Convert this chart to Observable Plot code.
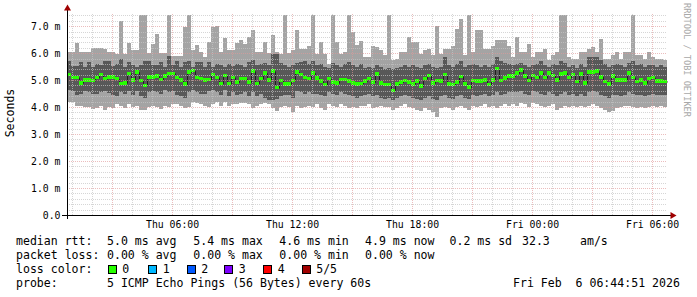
<!DOCTYPE html>
<html><head><meta charset="utf-8">
<script src="https://cdn.jsdelivr.net/npm/d3@7"></script>
<script src="https://cdn.jsdelivr.net/npm/@observablehq/plot@0.6"></script>
<style>
body{margin:0;background:#fff;}
#wrap{position:relative;width:697px;height:297px;overflow:hidden;font-family:"DejaVu Sans Mono",monospace;}
#wrap svg{position:absolute;left:0;top:0;}
.t{position:absolute;font-size:11.55px;white-space:pre;color:#000;line-height:1;}
.box{position:absolute;width:7px;height:7px;border:1px solid #000;}
.rot{position:absolute;white-space:pre;line-height:1;}
</style></head><body><div id="wrap"></div>
<script>
// ---- data (ms), one value per 12-minute step ----
const lmax = [6.05,6.05,6.37,6.05,6.05,6.05,6.18,6.20,6.20,6.15,
6.05,6.05,5.95,7.20,5.95,6.38,6.12,6.12,7.40,7.40,
6.00,6.35,6.70,6.00,6.00,7.42,5.90,5.90,5.90,6.96,
7.40,6.10,6.30,6.05,5.85,6.40,6.95,7.02,6.05,6.55,
6.10,6.10,6.38,6.50,6.35,6.60,6.84,6.05,6.05,6.40,
6.00,6.68,6.05,5.95,7.42,6.00,6.10,6.84,6.15,6.15,
6.25,7.40,5.95,6.40,5.95,5.60,7.40,6.40,5.95,6.05,
7.40,6.80,6.30,6.45,5.85,5.85,6.28,6.22,6.10,5.92,
7.42,5.73,5.80,6.04,6.04,6.60,6.40,6.40,5.97,6.10,
6.16,5.92,7.00,5.97,6.16,6.16,6.28,6.90,7.27,5.92,
7.42,6.04,6.84,6.84,6.16,6.16,6.28,6.47,6.47,6.47,
6.28,5.85,6.60,6.04,6.04,6.35,5.85,6.04,6.04,6.16,
5.73,5.92,6.04,7.42,7.42,5.85,5.80,5.80,6.04,6.04,
6.16,6.22,6.04,6.53,5.80,5.80,5.92,6.04,5.80,6.04,
6.04,7.42,5.92,5.92,5.80,6.04,5.85,5.80,5.80,5.73];
const dtop = [5.72,5.52,5.52,5.67,5.48,5.67,5.48,5.60,5.55,5.72,
5.72,5.52,5.60,5.79,5.50,5.67,5.55,5.50,5.57,5.70,
5.72,5.55,5.55,5.67,5.48,5.91,5.55,5.72,5.48,5.67,
5.70,5.48,5.67,5.67,5.48,5.67,5.48,5.60,5.55,5.50,
5.60,5.52,5.60,5.55,5.50,5.67,5.75,5.55,5.60,5.62,
5.55,5.98,5.98,5.65,5.55,5.50,5.55,5.62,5.67,5.70,
5.60,5.70,5.55,5.60,5.50,5.45,5.62,5.55,5.50,5.60,
5.67,5.55,5.50,5.60,5.45,5.50,5.45,5.55,5.50,5.40,
5.45,5.40,5.45,5.50,5.55,5.50,5.55,5.50,5.45,5.55,
5.60,5.50,5.45,5.50,5.85,5.55,5.50,5.60,5.70,5.50,
5.55,5.60,5.55,5.50,5.55,5.50,5.60,5.85,5.70,5.65,
5.60,5.55,5.60,5.62,5.55,5.50,5.55,5.60,5.70,5.55,
5.48,5.60,5.55,5.70,5.65,5.50,5.55,5.45,5.60,5.50,
5.85,5.85,5.85,5.75,5.60,5.50,5.55,5.60,5.55,5.50,
5.65,5.70,5.55,5.60,5.50,5.55,5.55,5.50,5.55,5.50];
const median = [5.20,5.10,5.10,4.90,5.00,5.00,4.98,5.10,5.20,5.05,
5.12,5.12,5.05,4.88,4.90,5.25,5.00,5.30,4.98,4.80,
5.12,5.12,5.15,5.02,5.15,5.25,5.25,5.10,5.00,4.85,
5.30,5.35,5.10,5.05,5.00,5.02,5.20,5.10,4.88,5.17,
4.88,5.10,4.93,5.05,5.05,4.93,5.33,4.88,5.05,5.26,
5.00,5.33,4.72,4.99,4.86,4.86,4.99,5.30,5.20,5.10,
5.05,5.26,5.07,4.96,4.83,5.05,4.93,4.90,5.02,5.02,
4.96,4.90,4.86,4.88,4.96,5.05,4.93,5.22,4.89,4.83,
4.83,4.62,4.85,4.93,4.99,4.93,4.86,4.96,4.78,5.05,
5.17,4.90,4.99,4.96,5.20,4.86,4.83,4.93,5.14,4.86,
4.74,4.99,4.96,4.96,5.00,4.83,5.00,5.42,4.99,5.07,
5.15,5.15,5.26,5.38,5.15,4.98,5.17,5.09,5.27,5.09,
5.27,5.17,5.01,5.23,5.26,5.10,5.20,4.95,5.23,4.90,
5.30,5.30,5.33,5.12,4.95,4.86,5.15,5.00,5.00,5.00,
5.26,5.10,4.95,5.00,4.90,5.05,5.09,4.96,4.96,4.95];
const dbot = [4.62,4.58,4.45,4.50,4.60,4.55,4.50,4.48,4.55,4.60,
4.52,4.45,4.40,4.55,4.50,4.60,4.45,4.58,4.40,4.35,
4.55,4.60,4.55,4.50,4.62,4.55,4.60,4.45,4.40,4.35,
4.55,4.65,4.55,4.50,4.48,4.60,4.62,4.55,4.45,4.62,
4.40,4.55,4.45,4.50,4.55,4.40,4.55,4.40,4.50,4.35,
4.25,4.25,4.30,4.40,4.45,4.45,4.35,4.60,4.55,4.50,
4.55,4.48,4.50,4.45,4.40,4.55,4.50,4.45,4.55,4.50,
4.45,4.40,4.35,4.40,4.45,4.50,4.40,4.45,4.35,4.30,
4.35,4.25,4.35,4.40,4.45,4.40,4.35,4.30,4.25,4.35,
4.40,4.30,4.25,4.40,4.45,4.35,4.30,4.40,4.45,4.35,
4.30,4.45,4.40,4.45,4.50,4.40,4.45,4.55,4.45,4.50,
4.55,4.55,4.55,4.60,4.50,4.45,4.60,4.55,4.50,4.45,
4.55,4.50,4.40,4.50,4.55,4.45,4.50,4.40,4.50,4.40,
4.55,4.60,4.55,4.45,4.40,4.35,4.45,4.45,4.40,4.45,
4.55,4.50,4.45,4.45,4.40,4.45,4.50,4.45,4.45,4.45];
const lmin = [4.20,4.20,4.05,4.05,4.02,4.00,3.92,3.98,4.05,3.90,
4.00,3.98,4.10,4.05,3.95,4.10,4.00,4.05,3.90,3.88,
4.00,4.05,4.00,3.92,4.05,4.00,4.10,4.10,4.05,3.95,
4.00,4.20,4.15,4.10,4.05,4.00,4.10,4.20,4.05,4.20,
4.05,4.10,4.10,4.15,4.15,4.10,3.95,4.05,4.10,4.15,
4.10,3.95,3.85,4.00,4.05,4.00,3.81,4.05,3.95,4.00,
4.05,4.00,4.10,3.95,3.90,4.10,4.05,4.00,4.10,4.05,
3.95,4.00,3.95,4.05,4.05,4.10,3.95,4.00,4.05,4.00,
4.00,3.90,3.95,4.05,4.10,4.00,3.95,3.90,3.85,3.95,
3.90,3.80,3.63,3.95,4.00,3.95,3.90,4.00,4.05,3.95,
3.90,4.05,4.00,4.05,4.10,4.00,4.05,3.95,4.05,4.10,
4.05,4.10,4.05,4.15,4.10,4.00,4.15,4.10,4.05,4.00,
4.05,4.10,3.90,3.95,4.05,4.00,4.05,4.00,4.05,4.00,
4.05,4.10,4.05,3.95,3.90,3.81,3.85,3.95,4.00,4.05,
4.05,4.00,3.95,4.00,3.95,4.00,4.05,4.00,4.05,4.00];

const yTicks = [0,1,2,3,4,5,6,7];
const yLabels = ["0.0","1.0 m","2.0 m","3.0 m","4.0 m","5.0 m","6.0 m","7.0 m"];
const xTickTimes = ["2026-02-05T06:00:00Z","2026-02-05T12:00:00Z","2026-02-05T18:00:00Z","2026-02-06T00:00:00Z","2026-02-06T06:00:00Z"];
const xLabels = ["Thu 06:00","Thu 12:00","Thu 18:00","Fri 00:00","Fri 06:00"];
const lossLabels = ["0","1","2","3","4","5/5"];
const lossColors = ["#26ff00","#00b8ff","#0059ff","#7e00ff","#ff0000","#a10000"];
const statsRtt = ["5.0 ms avg","5.4 ms max","4.6 ms min","4.9 ms now","0.2 ms sd","32.3","am/s"];
const statsLoss = ["0.00 % avg","0.00 % max","0.00 % min","0.00 % now"];
const probeText = "5 ICMP Echo Pings (56 Bytes) every 60s";
const stampText = "Fri Feb  6 06:44:51 2026";

// ---- build ----
const start = new Date(Date.UTC(2026,1,5,0,44,51));
const STEP = 12*60*1000;
const end = new Date(+start + median.length*STEP);
const rows = median.map((m,i)=>({t0:new Date(+start+i*STEP), t1:new Date(+start+(i+1)*STEP),
  lmin:lmin[i], lmax:lmax[i], dbot:dbot[i], dtop:dtop[i], med:m}));
const medLine = rows.map(r=>({t:r.t0,v:r.med})).concat([{t:end,v:median[median.length-1]}]);
const xTicks = xTickTimes.map(s=>new Date(s));
const xMinor = d3.utcHour.range(start,end);
const xMajor = xMinor.filter(d=>d.getUTCHours()%3===0);
const yMinor = d3.range(1,38).map(k=>k/5).filter(v=>Math.abs(v-Math.round(v))>1e-6);
const yMajor = yTicks.filter(v=>v>0);
const TOP = 7.45;
const HALF = 0.064;

const plot = Plot.plot({
  width:697, height:232, marginLeft:67, marginRight:30, marginTop:14, marginBottom:17,
  style:{fontFamily:"'DejaVu Sans Mono',monospace", fontSize:"9.8px", background:"transparent", color:"#000"},
  x:{type:"utc", domain:[start,end]},
  y:{domain:[0,TOP]},
  marks:[
    Plot.rect(rows,{x1:"t0",x2:"t1",y1:"lmin",y2:"lmax",fill:"#a4a4a4",inset:0,shapeRendering:"crispEdges"}),
    Plot.rect(rows,{x1:"t0",x2:"t1",y1:"dbot",y2:"dtop",fill:"#585858",inset:0,shapeRendering:"crispEdges"}),
    Plot.line(medLine,{x:"t",y:"v",curve:"step-after",stroke:"#202020",strokeWidth:1}),
    Plot.rect(rows,{x1:"t0",x2:"t1",y1:d=>d.med-HALF,y2:d=>d.med+HALF,fill:"#26ff00",inset:0,shapeRendering:"crispEdges"}),
    Plot.ruleY(yMinor,{stroke:"#c4c4c4",strokeOpacity:0.7,strokeDasharray:"1,1",shapeRendering:"crispEdges"}),
    Plot.ruleX(xMinor.filter(d=>d.getUTCHours()%3!==0),{stroke:"#c4c4c4",strokeOpacity:0.7,strokeDasharray:"1,1",shapeRendering:"crispEdges"}),
    Plot.ruleY(yMajor,{stroke:"#e09a9a",strokeOpacity:0.65,strokeDasharray:"1,1",shapeRendering:"crispEdges"}),
    Plot.ruleX(xMajor,{stroke:"#e09a9a",strokeOpacity:0.65,strokeDasharray:"1,1",shapeRendering:"crispEdges"}),
    Plot.ruleY([0],{stroke:"#000",insetLeft:-5,insetRight:-4,shapeRendering:"crispEdges"}),
    Plot.ruleX([start],{stroke:"#000",insetTop:-6,insetBottom:-4,shapeRendering:"crispEdges"}),
    Plot.dot([end],{x:d=>d,y:()=>0,symbol:"triangle",r:2.6,rotate:90,fill:"#a00000",dx:5}),
    Plot.dot([start],{x:d=>d,y:()=>TOP,symbol:"triangle",r:2.6,fill:"#a00000",dy:-6}),
    Plot.axisY({ticks:yTicks, tickFormat:d=>yLabels[yTicks.indexOf(d)], tickSize:0, tickPadding:7, label:null, fill:"#000"}),
    Plot.axisX({ticks:xTicks, tickFormat:d=>xLabels[xTicks.findIndex(t=>+t===+d)], tickSize:0, tickPadding:6, label:null, fill:"#000"})
  ]
});
const wrap = document.getElementById("wrap");
wrap.appendChild(plot);

function addText(str, left, top, cls){
  const s = document.createElement("span");
  s.className = cls || "t"; s.textContent = str;
  s.style.left = left+"px"; s.style.top = top+"px";
  wrap.appendChild(s); return s;
}
// Y label
const yl = addText("Seconds", 0, 0, "rot");
yl.style.fontSize = "11.55px";
yl.style.left = "11px"; yl.style.top = "113px";
yl.style.transform = "translate(-50%,-50%) rotate(-90deg)";
// watermark
const wm = addText("RRDTOOL / TOBI OETIKER", 0, 0, "rot");
wm.style.fontSize = "8.6px"; wm.style.color = "#a8a8a8";
wm.style.left = "687px"; wm.style.top = "60px";
wm.style.transform = "translate(-50%,-50%) rotate(90deg)";

// legend
const rttX = [107,193.3,279.3,365,449.5,522,580];
const lossX = [107,193.3,279.3,365];
const boxX = [107.7,148.3,186.7,224.3,263.3,301.7];
const L1 = 235.7, L2 = 249.7, L3 = 263.7, L4 = 277.7;
addText("median rtt:",16,L1);
statsRtt.forEach((s,i)=>addText(s,rttX[i],L1));
addText("packet loss:",16,L2);
statsLoss.forEach((s,i)=>addText(s,lossX[i],L2));
addText("loss color:",16,L3);
lossLabels.forEach((s,i)=>{
  const b = document.createElement("div");
  b.className="box"; b.style.left=boxX[i]+"px"; b.style.top="265px"; b.style.background=lossColors[i];
  wrap.appendChild(b);
  addText(s,boxX[i]+14.5,L3);
});
addText("probe:",16,L4);
addText(probeText,107,L4);
addText(stampText,513,L4);
</script>
</body></html>
